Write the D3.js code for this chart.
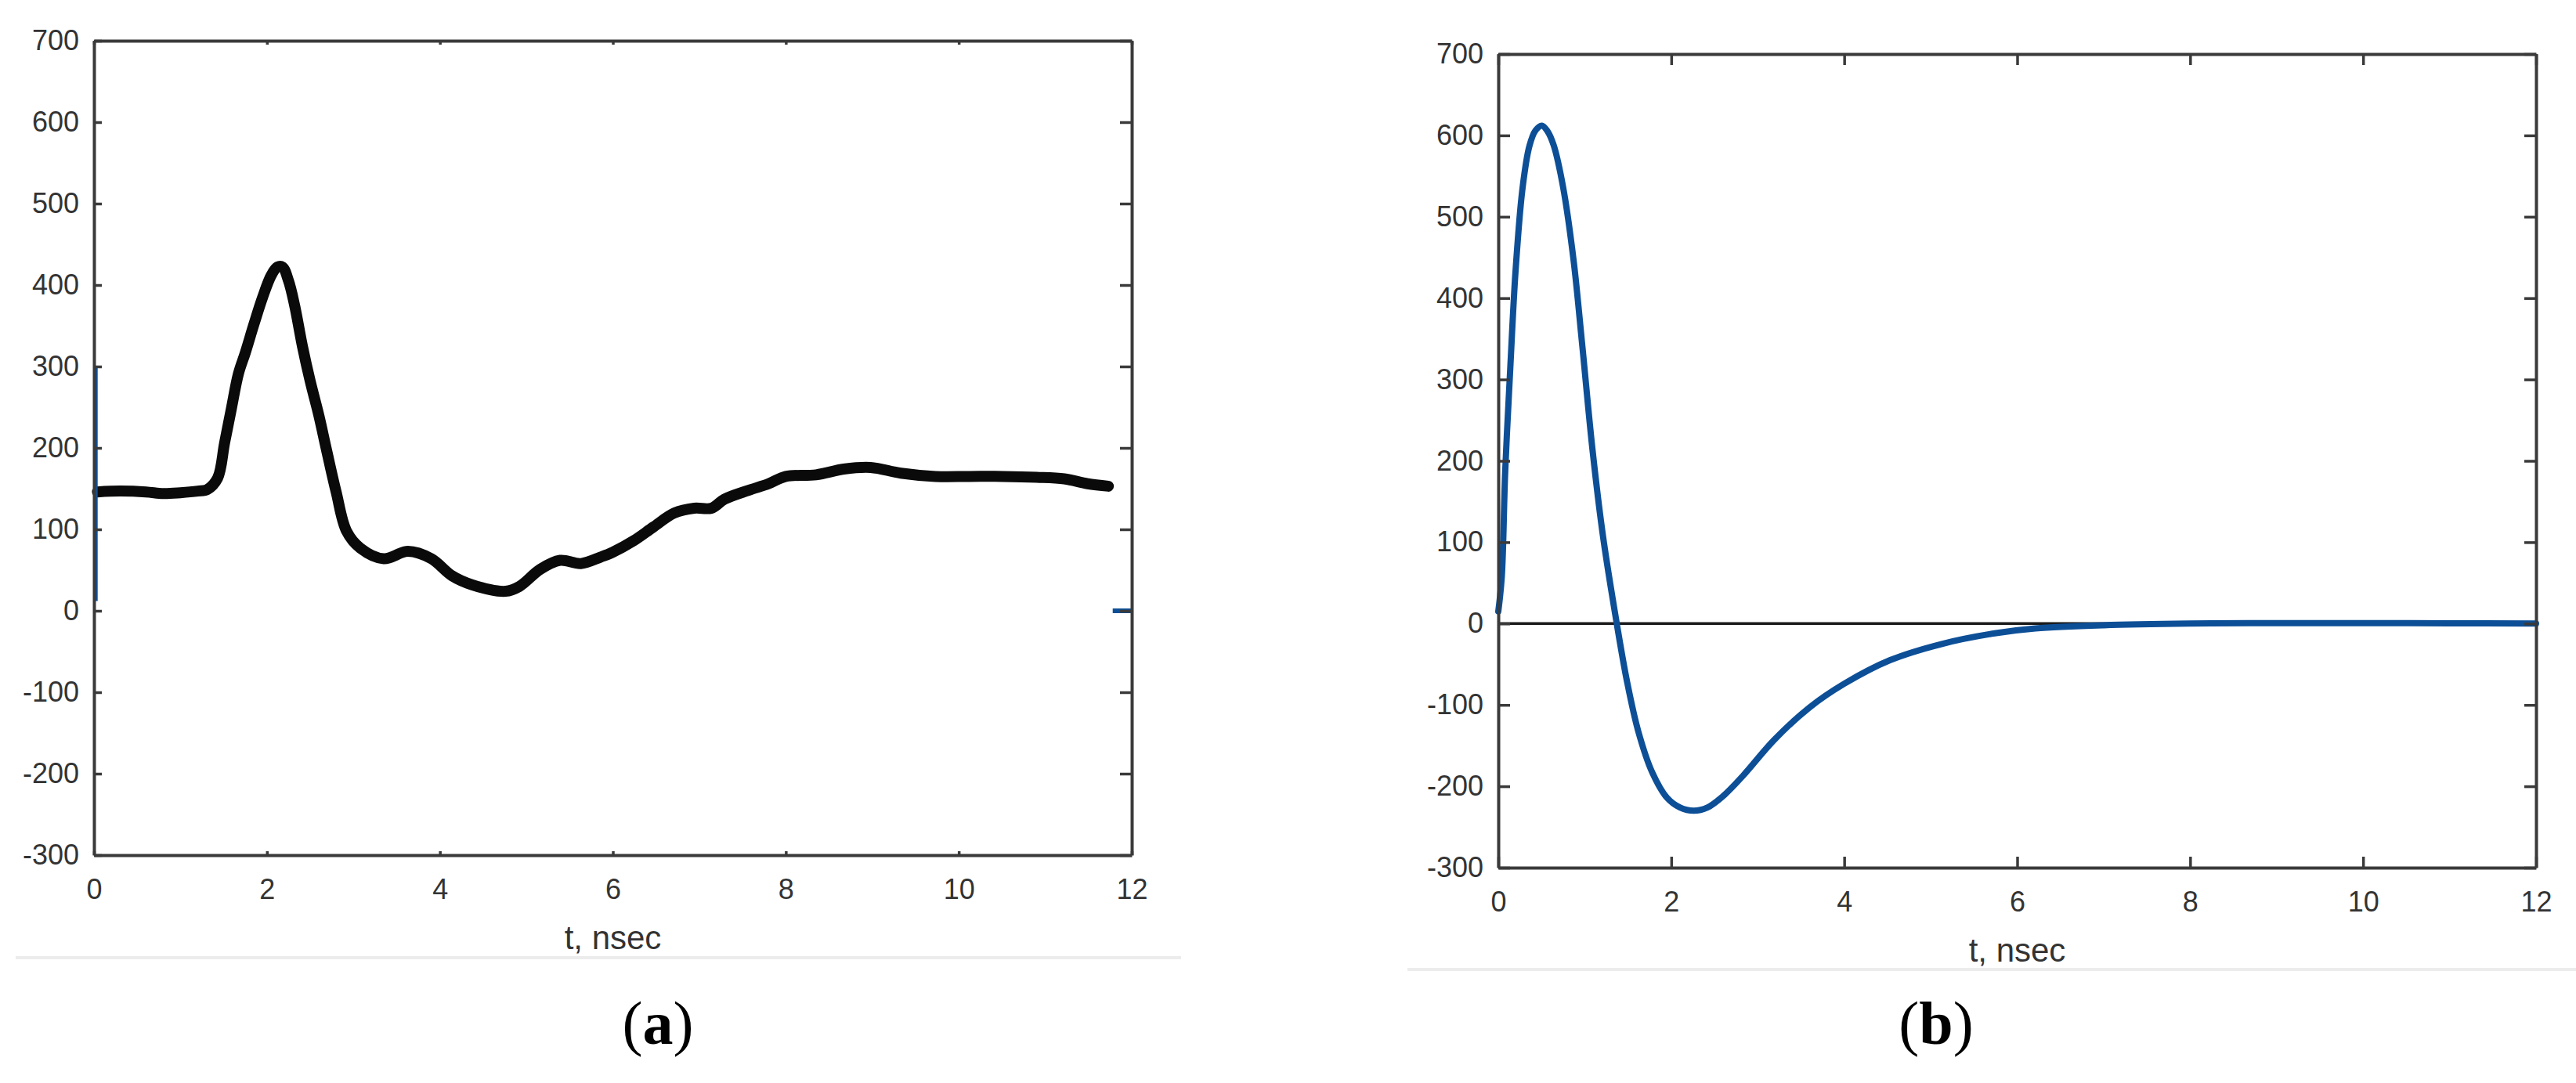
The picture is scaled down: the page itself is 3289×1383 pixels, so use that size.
<!DOCTYPE html>
<html>
<head>
<meta charset="utf-8">
<script src="https://cdn.jsdelivr.net/npm/d3@7"></script>
<style>
  body { margin: 0; background: #fff; }
  svg { display: block; }
  .tick text { font-family: "Liberation Sans", Arial, sans-serif; font-size: 36px; fill: #333; }
  .xlab { font-family: "Liberation Sans", Arial, sans-serif; font-size: 42px; fill: #333; }
  .plab { font-family: "Liberation Serif", "Times New Roman", serif; font-size: 78px; fill: #000; }
</style>
</head>
<body>
<svg id="fig" width="3289" height="1383"></svg>
<script>
// ticks shared by both panels
var xTicks = [0, 2, 4, 6, 8, 10, 12];
var yTicks = [-300, -200, -100, 0, 100, 200, 300, 400, 500, 600, 700];

// (a) measured pulse, t in nsec
var measT = [0.04, 0.3, 0.6, 0.8, 1.0, 1.2, 1.31, 1.43, 1.51, 1.59, 1.67, 1.75, 1.85, 1.95, 2.05, 2.12, 2.18, 2.25,
             2.32, 2.41, 2.5, 2.6, 2.69, 2.8, 2.92, 3.08, 3.35, 3.63, 3.9, 4.14, 4.37, 4.76, 4.92, 5.16, 5.39,
             5.63, 5.86, 6.0, 6.24, 6.47, 6.71, 6.94, 7.14, 7.29, 7.57, 7.8, 8.0, 8.35, 8.67, 8.98, 9.33, 9.73,
             10.12, 10.51, 10.9, 11.22, 11.49, 11.73];
var measV = [146, 147, 146, 144, 145, 147, 149, 163, 206, 249, 291, 317, 352, 385, 412, 422, 422, 405,
             375, 325, 282, 240, 197, 146, 98, 77, 64, 73, 64, 43, 32, 24, 30, 51, 62,
             58, 66, 72, 86, 103, 120, 126, 126, 137, 148, 156, 165, 167, 174, 176, 169, 165,
             165, 165, 164, 162, 156, 153];

// (a) blue fragments at both ends
var spikeT = [0.02, 0.02];
var spikeV = [12, 300];
var tailT = [11.78, 12];
var tailV = [0, 0];

// (b) computed pulse
var modelT = [0, 0.04, 0.08, 0.14, 0.2, 0.28, 0.36, 0.43, 0.505, 0.57, 0.64, 0.75, 0.87, 0.97, 1.09, 1.21, 1.37,
              1.49, 1.62, 1.78, 1.95, 2.1, 2.26, 2.42, 2.6, 2.83, 3.19, 3.6, 4.0, 4.53, 5.13, 5.74, 6.21, 7.0,
              8.0, 9.0, 10.0, 11.0, 12.0];
var modelV = [15, 57, 187, 317, 434, 535, 587, 606, 612, 605, 588, 536, 447, 343, 213, 108, 0,
              -72, -133, -183, -214, -226, -230, -226, -212, -187, -143, -103, -74, -45, -25, -12, -6, -2,
              0, 0.5, 0.5, 0.3, 0];

var svg = d3.select("#fig");
svg.append("rect").attr("width", 3289).attr("height", 1383).attr("fill", "#fff");

function zip(ts, vs) {
  return ts.map(function(t, i) { return [t, vs[i]]; });
}

// plain hyphen minus, as in the original figure
var fmt = function(d) { return String(d); };

function drawPanel(p) {
  var x = d3.scaleLinear().domain([0, 12]).range([p.left, p.right]);
  var y = d3.scaleLinear().domain([-300, 700]).range([p.bottom, p.top]);
  var g = svg.append("g");

  var line = d3.line()
    .x(function(d) { return x(d[0]); })
    .y(function(d) { return y(d[1]); });

  if (p.zero) {
    g.append("line")
      .attr("x1", x(0)).attr("x2", x(12))
      .attr("y1", y(0)).attr("y2", y(0))
      .attr("stroke", "#1a1a1a").attr("stroke-width", 3.5);
  }

  p.series.forEach(function(s) {
    g.append("path")
      .datum(zip(s.t, s.v))
      .attr("fill", "none")
      .attr("stroke", s.color)
      .attr("stroke-width", s.width)
      .attr("stroke-linejoin", "round")
      .attr("stroke-linecap", s.cap || "round")
      .attr("d", line.curve(s.curve || d3.curveLinear));
  });

  // box with inward ticks on all four sides
  g.append("g").attr("transform", "translate(0," + p.bottom + ")")
    .call(d3.axisBottom(x).tickValues(xTicks).tickFormat(fmt).tickSize(-p.tb).tickSizeOuter(0).tickPadding(30));
  g.append("g").attr("transform", "translate(0," + p.top + ")")
    .call(d3.axisTop(x).tickValues(xTicks).tickSize(-p.tb).tickSizeOuter(0).tickFormat(""));
  g.append("g").attr("transform", "translate(" + p.left + ",0)")
    .call(d3.axisLeft(y).tickValues(yTicks).tickFormat(fmt).tickSize(-p.tl).tickSizeOuter(0).tickPadding(19));
  g.append("g").attr("transform", "translate(" + p.right + ",0)")
    .call(d3.axisRight(y).tickValues(yTicks).tickSize(-p.tr).tickSizeOuter(0).tickFormat(""));

  g.selectAll(".domain").attr("stroke", "#3a3a3a").attr("stroke-width", 4);
  g.selectAll(".tick line").attr("stroke", "#3a3a3a").attr("stroke-width", 3.5);

  g.append("text").attr("class", "xlab")
    .attr("x", (p.left + p.right) / 2).attr("y", p.bottom + 120)
    .attr("text-anchor", "middle")
    .text("t, nsec");

  g.append("line")
    .attr("x1", p.sepX0).attr("x2", p.sepX1)
    .attr("y1", p.sepY).attr("y2", p.sepY)
    .attr("stroke", "#ececec").attr("stroke-width", 4);

  var lab = g.append("text").attr("class", "plab")
    .attr("x", p.labX).attr("y", 1333).attr("text-anchor", "middle");
  lab.append("tspan").text("(");
  lab.append("tspan").attr("font-weight", "bold").text(p.label);
  lab.append("tspan").text(")");
}

drawPanel({
  left: 120, right: 1445, top: 52, bottom: 1092,
  tl: 10, tr: 15, tb: 5,
  sepX0: 20, sepX1: 1508, sepY: 1223,
  labX: 840, label: "a",
  series: [
    { t: measT, v: measV, color: "#0a0a0a", width: 14, curve: d3.curveCatmullRom.alpha(0.5) },
    { t: spikeT, v: spikeV, color: "#0d4f97", width: 5, cap: "butt" },
    { t: tailT, v: tailV, color: "#0d4f97", width: 6, cap: "butt" }
  ]
});

drawPanel({
  left: 1913, right: 3238, top: 69, bottom: 1108,
  tl: 15, tr: 15, tb: 14,
  sepX0: 1797, sepX1: 3289, sepY: 1238,
  labX: 2472, label: "b", zero: true,
  series: [
    { t: modelT, v: modelV, color: "#0d4f97", width: 8, curve: d3.curveCatmullRom.alpha(0.5) }
  ]
});
</script>
</body>
</html>
